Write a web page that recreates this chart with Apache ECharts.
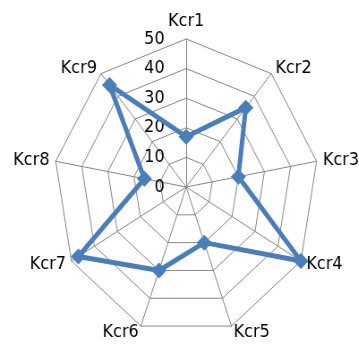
<!DOCTYPE html>
<html>
<head>
<meta charset="utf-8">
<script src="https://cdn.jsdelivr.net/npm/echarts@6/dist/echarts.min.js"></script>
<style>
  html, body { margin: 0; padding: 0; background: #fff; overflow: hidden; }
  #wrap { width: 359px; height: 344px; overflow: hidden; }
  /* the plot area is wider than tall, so the radar is drawn stretched horizontally */
  #chart { width: 401px; height: 344px; transform: scaleX(0.895); transform-origin: 0 0; }
</style>
</head>
<body>
<div id="wrap"><div id="chart"></div></div>
<script>
// Indicator names, clockwise from the top
const categories = ['Kcr1', 'Kcr2', 'Kcr3', 'Kcr4', 'Kcr5', 'Kcr6', 'Kcr7', 'Kcr8', 'Kcr9'];
// Series values per indicator
const values = [17, 35, 20, 50, 20, 30, 47, 16, 45];
// Scale of every spoke
const axisMin = 0;
const axisMax = 50;
const axisStep = 10;

// ECharts lays radar spokes out counter-clockwise, so keep the first one
// at the top and reverse the rest to run clockwise.
const order = [0].concat(categories.map((_, i) => i).slice(1).reverse());
const indicators = order.map((i, k) => {
  const ind = { name: categories[i], min: axisMin, max: axisMax };
  if (k === 0) ind.axisLabel = { show: true };
  return ind;
});
const seriesValues = order.map(i => values[i]);

const font = 'DejaVu Sans';
const chart = echarts.init(document.getElementById('chart'), null, { renderer: 'canvas' });
chart.setOption({
  backgroundColor: '#ffffff',
  animation: false,
  radar: {
    center: [208, 187],
    radius: 148,
    startAngle: 90,
    shape: 'polygon',
    splitNumber: (axisMax - axisMin) / axisStep,
    indicator: indicators,
    nameGap: 7,
    axisName: { color: '#000', fontFamily: font, fontSize: 18 },
    axisLine: { lineStyle: { color: '#878787', width: 1 } },
    splitLine: { lineStyle: { color: '#878787', width: 1 } },
    splitArea: { show: false },
    axisTick: { show: false },
    axisLabel: {
      show: false,
      color: '#000',
      fontFamily: font,
      fontSize: 18,
      align: 'right',
      margin: 24,
      showMinLabel: true,
      showMaxLabel: true
    }
  },
  series: [{
    type: 'radar',
    symbol: 'diamond',
    symbolSize: [17, 16],
    lineStyle: { color: '#4a7ebb', width: 5 },
    itemStyle: { color: '#4a7ebb' },
    data: [{ value: seriesValues, name: 'Kcr' }]
  }]
});
</script>
</body>
</html>
